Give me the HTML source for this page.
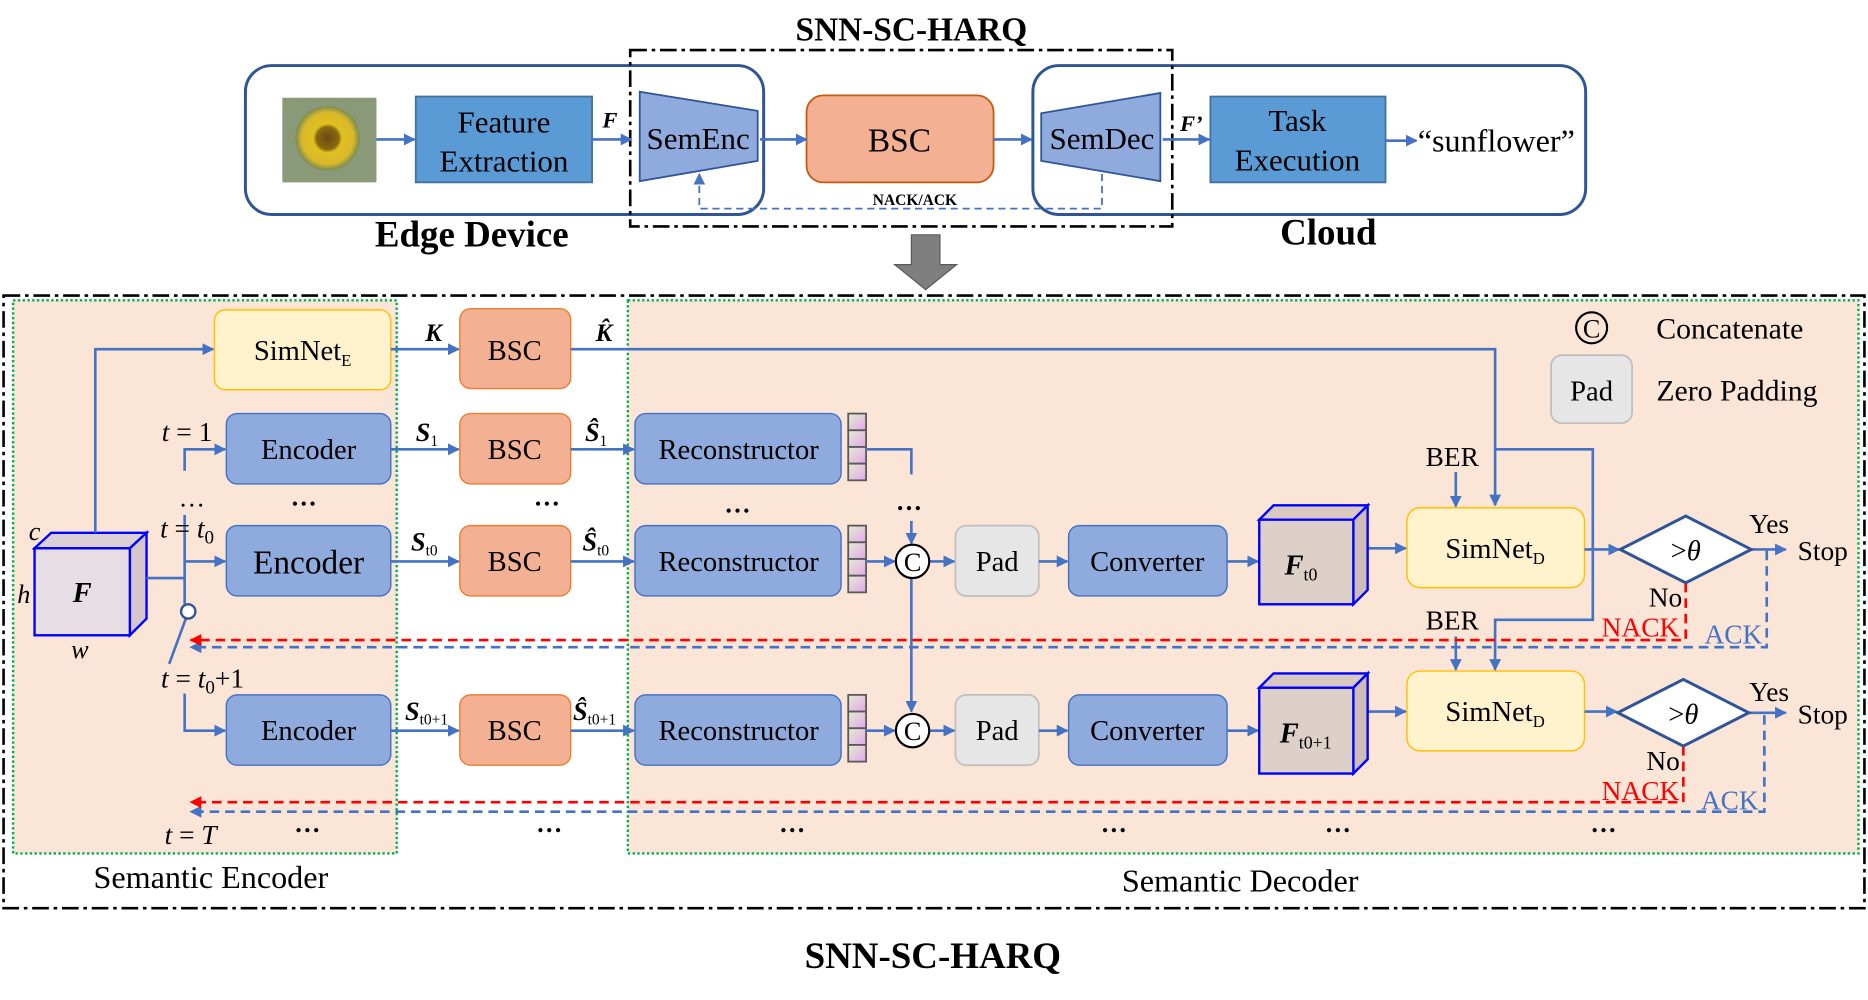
<!DOCTYPE html>
<html><head><meta charset="utf-8"><style>
html,body{margin:0;padding:0;background:#fff}
svg{display:block}
text{font-family:"Liberation Serif","Times New Roman",serif;fill:#000}
</style></head><body>
<svg width="1868" height="1000" viewBox="0 0 1568 839" preserveAspectRatio="none" xmlns="http://www.w3.org/2000/svg">
<defs>
<marker id="a" markerWidth="10" markerHeight="10" refX="9" refY="5" orient="auto" markerUnits="userSpaceOnUse"><path d="M0,0 L10,5 L0,10 z" fill="#4472c4"/></marker>
<marker id="r" markerWidth="10" markerHeight="10" refX="9" refY="5" orient="auto" markerUnits="userSpaceOnUse"><path d="M0,0 L10,5 L0,10 z" fill="#ff0000"/></marker>
<linearGradient id="cell" x1="0" y1="0" x2="1" y2="1"><stop offset="0" stop-color="#e2f0cb"/><stop offset="1" stop-color="#e3a5f0"/></linearGradient>
<radialGradient id="sun" cx="0.5" cy="0.5" r="0.5"><stop offset="0" stop-color="#6b4a10"/><stop offset="0.35" stop-color="#8a6a10"/><stop offset="0.45" stop-color="#e0c020"/><stop offset="0.8" stop-color="#d9b92a"/><stop offset="1" stop-color="#7a8a50"/></radialGradient>
</defs>

<!-- TOP -->
<text x="765" y="34" font-size="28" font-weight="bold" text-anchor="middle">SNN-SC-HARQ</text>
<rect x="206" y="55" width="435" height="125" rx="22" fill="none" stroke="#2f5597" stroke-width="2.5"/>
<rect x="867" y="55" width="464" height="125" rx="22" fill="none" stroke="#2f5597" stroke-width="2.5"/>
<rect x="529" y="42" width="455" height="148" fill="none" stroke="#000" stroke-width="2.2" stroke-dasharray="14,4,3,4"/>
<rect x="237" y="82" width="79" height="71" fill="#8a9a78"/>
<circle cx="275" cy="116" r="27" fill="url(#sun)"/>
<rect x="349" y="81" width="148" height="72" fill="#5b9bd5" stroke="#41719c" stroke-width="1.5"/>
<text x="423" y="111" font-size="26" text-anchor="middle">Feature</text>
<text x="423" y="144" font-size="26" text-anchor="middle">Extraction</text>
<text x="512" y="107" font-size="19" font-weight="bold" font-style="italic" text-anchor="middle">F</text>
<polygon points="537,77 636,93 636,135 537,152" fill="#8faadc" stroke="#2f5597" stroke-width="1.5"/>
<text x="586" y="125" font-size="26" text-anchor="middle">SemEnc</text>
<rect x="677" y="80" width="157" height="73" rx="14" fill="#f4b093" stroke="#c55a11" stroke-width="1.5"/>
<text x="755" y="127" font-size="28" text-anchor="middle">BSC</text>
<polygon points="874,95 974,78 974,152 874,135" fill="#8faadc" stroke="#2f5597" stroke-width="1.5"/>
<text x="925" y="125" font-size="26" text-anchor="middle">SemDec</text>
<rect x="1016" y="81" width="147" height="72" fill="#5b9bd5" stroke="#41719c" stroke-width="1.5"/>
<text x="1089" y="110" font-size="26" text-anchor="middle">Task</text>
<text x="1089" y="143" font-size="26" text-anchor="middle">Execution</text>
<text x="1000" y="110" font-size="19" font-weight="bold" font-style="italic" text-anchor="middle">F’</text>
<text x="1256" y="127" font-size="27" text-anchor="middle">“sunflower”</text>
<g stroke="#4472c4" stroke-width="2.2" fill="none">
<line x1="316" y1="117" x2="348" y2="117" marker-end="url(#a)"/>
<line x1="497" y1="117" x2="530" y2="117" marker-end="url(#a)"/>
<line x1="638" y1="117" x2="677" y2="117" marker-end="url(#a)"/>
<line x1="834" y1="117" x2="866" y2="117" marker-end="url(#a)"/>
<line x1="976" y1="117" x2="1015" y2="117" marker-end="url(#a)"/>
<line x1="1163" y1="118" x2="1189" y2="118" marker-end="url(#a)"/>
<polyline points="925,146 925,175 587,175 587,146" stroke-dasharray="6,4" stroke-width="1.5" marker-end="url(#a)"/>
</g>
<text x="768" y="172" font-size="13" font-weight="bold" text-anchor="middle">NACK/ACK</text>
<text x="396" y="207" font-size="31" font-weight="bold" text-anchor="middle">Edge Device</text>
<text x="1115" y="205" font-size="31" font-weight="bold" text-anchor="middle">Cloud</text>
<polygon points="765,197 789,197 789,222 803,222 777,243 751,222 765,222" fill="#7f7f7f" stroke="#595959"/>

<!-- BOTTOM -->
<rect x="3" y="248" width="1562" height="514" fill="none" stroke="#000" stroke-width="2.2" stroke-dasharray="14,4,3,4"/>
<rect x="11" y="252" width="322" height="464" fill="#fbe5d6" stroke="#00b050" stroke-width="2" stroke-dasharray="2,2"/>
<rect x="527" y="252" width="1033" height="464" fill="#fbe5d6" stroke="#00b050" stroke-width="2" stroke-dasharray="2,2"/>
<text x="177" y="745" font-size="27" text-anchor="middle">Semantic Encoder</text>
<text x="1041" y="748" font-size="27" text-anchor="middle">Semantic Decoder</text>
<text x="783" y="812" font-size="31" font-weight="bold" text-anchor="middle">SNN-SC-HARQ</text>

<!-- legend -->
<circle cx="1336" cy="275" r="13" fill="none" stroke="#000" stroke-width="1.8"/>
<text x="1336" y="283" font-size="22" text-anchor="middle">C</text>
<text x="1452" y="284" font-size="25" text-anchor="middle">Concatenate</text>
<rect x="1302" y="298" width="68" height="57" rx="9" fill="#e7e6e6" stroke="#bfbfbf" stroke-width="1.5"/>
<text x="1336" y="336" font-size="24" text-anchor="middle">Pad</text>
<text x="1458" y="336" font-size="25" text-anchor="middle">Zero Padding</text>

<!-- cube F -->
<polygon points="29,460 43,447 123,447 109,460" fill="#dcd0d8" stroke="#0000ff" stroke-width="2"/>
<polygon points="109,460 123,447 123,519 109,533" fill="#d4c6cc" stroke="#0000ff" stroke-width="2"/>
<rect x="29" y="460" width="80" height="73" fill="#e7dee5" stroke="#0000ff" stroke-width="2"/>
<text x="69" y="505" font-size="24" font-weight="bold" font-style="italic" text-anchor="middle">F</text>
<text x="29" y="453" font-size="22" font-style="italic" text-anchor="middle">c</text>
<text x="20" y="506" font-size="22" font-style="italic" text-anchor="middle">h</text>
<text x="67" y="552" font-size="22" font-style="italic" text-anchor="middle">w</text>

<g stroke="#4472c4" stroke-width="2.2" fill="none">
<polyline points="80,447 80,293 179,293" marker-end="url(#a)"/>
<polyline points="123,485 155,485"/>
<line x1="155" y1="432" x2="155" y2="507"/>
<line x1="155" y1="471" x2="189" y2="471" marker-end="url(#a)"/>
<polyline points="155,395 155,377 189,377" marker-end="url(#a)"/>
<line x1="156" y1="519" x2="142" y2="557"/>
<polyline points="155,582 155,613 189,613" marker-end="url(#a)"/>
</g>
<circle cx="158" cy="513" r="6" fill="#fff" stroke="#2f5597" stroke-width="2"/>
<text x="157" y="370" font-size="23" text-anchor="middle"><tspan font-style="italic">t</tspan> = 1</text>
<text x="157" y="451" font-size="23" text-anchor="middle"><tspan font-style="italic">t</tspan> = <tspan font-style="italic">t</tspan><tspan font-size="16" dy="5">0</tspan></text>
<text x="170" y="577" font-size="23" text-anchor="middle"><tspan font-style="italic">t</tspan> = <tspan font-style="italic">t</tspan><tspan font-size="16" dy="5">0</tspan><tspan dy="-5">+1</tspan></text>
<text x="160" y="708" font-size="23" text-anchor="middle"><tspan font-style="italic">t</tspan> = <tspan font-style="italic">T</tspan></text>
<text x="161" y="425" font-size="22" text-anchor="middle">…</text>

<!-- SimNetE row -->
<rect x="180" y="260" width="148" height="67" rx="9" fill="#fff2cc" stroke="#ffc000" stroke-width="1.2"/>
<text x="254" y="302" font-size="24" text-anchor="middle">SimNet<tspan font-size="14" dy="5">E</tspan></text>
<rect x="386" y="259" width="93" height="67" rx="9" fill="#f4b093" stroke="#ed7d31" stroke-width="1.2"/>
<text x="432" y="302" font-size="24" text-anchor="middle">BSC</text>
<text x="364" y="286" font-size="21" font-weight="bold" font-style="italic" text-anchor="middle">K</text>
<text x="507" y="286" font-size="21" font-weight="bold" font-style="italic" text-anchor="middle">K̂</text>
<g stroke="#4472c4" stroke-width="2.2" fill="none">
<line x1="328" y1="293" x2="385" y2="293" marker-end="url(#a)"/>
<polyline points="479,293 1255,293 1255,424" marker-end="url(#a)"/>
</g>

<g font-size="24">
<rect x="190" y="347" width="138" height="59" rx="9" fill="#8faadc" stroke="#4472c4" stroke-width="1.2"/>
<text x="259" y="385" text-anchor="middle">Encoder</text>
<rect x="386" y="347" width="93" height="59" rx="9" fill="#f4b093" stroke="#ed7d31" stroke-width="1.2"/>
<text x="432" y="385" text-anchor="middle">BSC</text>
<rect x="533" y="347" width="173" height="59" rx="9" fill="#8faadc" stroke="#4472c4" stroke-width="1.2"/>
<text x="620" y="385" text-anchor="middle">Reconstructor</text>

<rect x="190" y="441" width="138" height="59" rx="9" fill="#8faadc" stroke="#4472c4" stroke-width="1.2"/>
<text x="259" y="481" text-anchor="middle" font-size="28">Encoder</text>
<rect x="386" y="441" width="93" height="59" rx="9" fill="#f4b093" stroke="#ed7d31" stroke-width="1.2"/>
<text x="432" y="479" text-anchor="middle">BSC</text>
<rect x="533" y="441" width="173" height="59" rx="9" fill="#8faadc" stroke="#4472c4" stroke-width="1.2"/>
<text x="620" y="479" text-anchor="middle">Reconstructor</text>
<rect x="802" y="441" width="70" height="59" rx="9" fill="#e7e6e6" stroke="#bfbfbf" stroke-width="1.5"/>
<text x="837" y="479" text-anchor="middle">Pad</text>
<rect x="897" y="441" width="133" height="59" rx="9" fill="#8faadc" stroke="#4472c4" stroke-width="1.2"/>
<text x="963" y="479" text-anchor="middle">Converter</text>
<rect x="1181" y="426" width="149" height="67" rx="11" fill="#fff2cc" stroke="#ffc000" stroke-width="1.2"/>
<text x="1255" y="468" text-anchor="middle">SimNet<tspan font-size="14" dy="5">D</tspan></text>

<rect x="190" y="583" width="138" height="59" rx="9" fill="#8faadc" stroke="#4472c4" stroke-width="1.2"/>
<text x="259" y="621" text-anchor="middle">Encoder</text>
<rect x="386" y="583" width="93" height="59" rx="9" fill="#f4b093" stroke="#ed7d31" stroke-width="1.2"/>
<text x="432" y="621" text-anchor="middle">BSC</text>
<rect x="533" y="583" width="173" height="59" rx="9" fill="#8faadc" stroke="#4472c4" stroke-width="1.2"/>
<text x="620" y="621" text-anchor="middle">Reconstructor</text>
<rect x="802" y="583" width="70" height="59" rx="9" fill="#e7e6e6" stroke="#bfbfbf" stroke-width="1.5"/>
<text x="837" y="621" text-anchor="middle">Pad</text>
<rect x="897" y="583" width="133" height="59" rx="9" fill="#8faadc" stroke="#4472c4" stroke-width="1.2"/>
<text x="963" y="621" text-anchor="middle">Converter</text>
<rect x="1181" y="563" width="149" height="67" rx="11" fill="#fff2cc" stroke="#ffc000" stroke-width="1.2"/>
<text x="1255" y="605" text-anchor="middle">SimNet<tspan font-size="14" dy="5">D</tspan></text>
</g>

<g stroke="#595959" stroke-width="1.5" fill="url(#cell)">
<rect x="712" y="347" width="15" height="14"/><rect x="712" y="361" width="15" height="14"/><rect x="712" y="375" width="15" height="14"/><rect x="712" y="389" width="15" height="14"/>
<rect x="712" y="441" width="15" height="14"/><rect x="712" y="455" width="15" height="14"/><rect x="712" y="469" width="15" height="14"/><rect x="712" y="483" width="15" height="14"/>
<rect x="712" y="583" width="15" height="14"/><rect x="712" y="597" width="15" height="14"/><rect x="712" y="611" width="15" height="14"/><rect x="712" y="625" width="15" height="14"/>
</g>

<g font-size="22" font-weight="bold" font-style="italic">
<text x="349" y="370">S<tspan font-size="13" font-weight="normal" font-style="normal" dy="4">1</tspan></text>
<text x="491" y="370">Ŝ<tspan font-size="13" font-weight="normal" font-style="normal" dy="4">1</tspan></text>
<text x="345" y="462">S<tspan font-size="13" font-weight="normal" font-style="normal" dy="4">t0</tspan></text>
<text x="489" y="462">Ŝ<tspan font-size="13" font-weight="normal" font-style="normal" dy="4">t0</tspan></text>
<text x="340" y="604">S<tspan font-size="13" font-weight="normal" font-style="normal" dy="4">t0+1</tspan></text>
<text x="481" y="604">Ŝ<tspan font-size="13" font-weight="normal" font-style="normal" dy="4">t0+1</tspan></text>
</g>

<g stroke="#4472c4" stroke-width="2.2" fill="none">
<line x1="328" y1="377" x2="385" y2="377" marker-end="url(#a)"/>
<line x1="479" y1="377" x2="532" y2="377" marker-end="url(#a)"/>
<polyline points="727,377 765,377 765,398"/>
<line x1="328" y1="471" x2="385" y2="471" marker-end="url(#a)"/>
<line x1="479" y1="471" x2="532" y2="471" marker-end="url(#a)"/>
<line x1="727" y1="471" x2="751" y2="471" marker-end="url(#a)"/>
<line x1="765" y1="437" x2="765" y2="456" marker-end="url(#a)"/>
<line x1="780" y1="471" x2="801" y2="471" marker-end="url(#a)"/>
<line x1="872" y1="471" x2="896" y2="471" marker-end="url(#a)"/>
<line x1="1030" y1="471" x2="1056" y2="471" marker-end="url(#a)"/>
<line x1="1148" y1="460" x2="1180" y2="460" marker-end="url(#a)"/>
<line x1="765" y1="485" x2="765" y2="597" marker-end="url(#a)"/>
<line x1="328" y1="613" x2="385" y2="613" marker-end="url(#a)"/>
<line x1="479" y1="613" x2="532" y2="613" marker-end="url(#a)"/>
<line x1="727" y1="613" x2="751" y2="613" marker-end="url(#a)"/>
<line x1="780" y1="613" x2="801" y2="613" marker-end="url(#a)"/>
<line x1="872" y1="613" x2="896" y2="613" marker-end="url(#a)"/>
<line x1="1030" y1="613" x2="1056" y2="613" marker-end="url(#a)"/>
<line x1="1148" y1="597" x2="1180" y2="597" marker-end="url(#a)"/>
<line x1="1222" y1="396" x2="1222" y2="425" marker-end="url(#a)"/>
<line x1="1222" y1="534" x2="1222" y2="562" marker-end="url(#a)"/>
<polyline points="1255,377 1337,377 1337,520 1255,520 1255,562" marker-end="url(#a)"/>
<line x1="1330" y1="461" x2="1359" y2="461" marker-end="url(#a)"/>
<line x1="1330" y1="597" x2="1357" y2="597" marker-end="url(#a)"/>
<line x1="1470" y1="461" x2="1499" y2="461" marker-end="url(#a)"/>
<line x1="1468" y1="598" x2="1499" y2="598" marker-end="url(#a)"/>
<polyline points="1483,462 1483,543 160,543" stroke-dasharray="8,5" marker-end="url(#a)"/>
<polyline points="1481,600 1481,681 160,681" stroke-dasharray="8,5" marker-end="url(#a)"/>
</g>
<g stroke="#ff0000" stroke-width="2.2" fill="none" stroke-dasharray="8,5">
<polyline points="1415,489 1415,537 160,537" marker-end="url(#r)"/>
<polyline points="1413,626 1413,673 160,673" marker-end="url(#r)"/>
</g>
<circle cx="766" cy="471" r="14" fill="#fff" stroke="#000" stroke-width="1.8"/>
<text x="766" y="479" font-size="22" text-anchor="middle">C</text>
<circle cx="766" cy="613" r="14" fill="#fff" stroke="#000" stroke-width="1.8"/>
<text x="766" y="621" font-size="22" text-anchor="middle">C</text>

<g stroke="#0000ff" stroke-width="2">
<polygon points="1057,436 1069,424 1148,424 1136,436" fill="#d8c8c0"/>
<polygon points="1136,436 1148,424 1148,495 1136,507" fill="#d0bcb6"/>
<rect x="1057" y="436" width="79" height="71" fill="#ddd0c8"/>
<polygon points="1057,577 1069,565 1148,565 1136,577" fill="#d8c8c0"/>
<polygon points="1136,577 1148,565 1148,637 1136,649" fill="#d0bcb6"/>
<rect x="1057" y="577" width="79" height="72" fill="#ddd0c8"/>
</g>
<text x="1092" y="482" font-size="24" font-weight="bold" font-style="italic" text-anchor="middle">F<tspan font-size="15" font-weight="normal" font-style="normal" dy="5">t0</tspan></text>
<text x="1096" y="623" font-size="24" font-weight="bold" font-style="italic" text-anchor="middle">F<tspan font-size="15" font-weight="normal" font-style="normal" dy="5">t0+1</tspan></text>

<polygon points="1360,461 1415,433 1470,461 1415,489" fill="#fff" stroke="#2f5597" stroke-width="2.5"/>
<text x="1415" y="470" font-size="24" text-anchor="middle">&gt;<tspan font-style="italic">θ</tspan></text>
<polygon points="1358,598 1413,570 1468,598 1413,626" fill="#fff" stroke="#2f5597" stroke-width="2.5"/>
<text x="1413" y="607" font-size="24" text-anchor="middle">&gt;<tspan font-style="italic">θ</tspan></text>

<g font-size="23">
<text x="1219" y="391" text-anchor="middle">BER</text>
<text x="1219" y="528" text-anchor="middle">BER</text>
<text x="1485" y="447" text-anchor="middle">Yes</text>
<text x="1530" y="470" text-anchor="middle">Stop</text>
<text x="1398" y="509" text-anchor="middle">No</text>
<text x="1485" y="588" text-anchor="middle">Yes</text>
<text x="1530" y="607" text-anchor="middle">Stop</text>
<text x="1396" y="646" text-anchor="middle">No</text>
<text x="1377" y="534" text-anchor="middle" style="fill:#ff0000">NACK</text>
<text x="1455" y="540" text-anchor="middle" style="fill:#4472c4">ACK</text>
<text x="1377" y="671" text-anchor="middle" style="fill:#ff0000">NACK</text>
<text x="1452" y="679" text-anchor="middle" style="fill:#4472c4">ACK</text>
</g>
<g font-size="22" text-anchor="middle" font-weight="bold">
<text x="255" y="424">…</text><text x="459" y="424">…</text><text x="619" y="430">…</text><text x="763" y="428">…</text>
<text x="258" y="698">…</text><text x="461" y="698">…</text><text x="665" y="698">…</text><text x="935" y="698">…</text><text x="1123" y="698">…</text><text x="1346" y="698">…</text>
</g>
</svg>
</body></html>
